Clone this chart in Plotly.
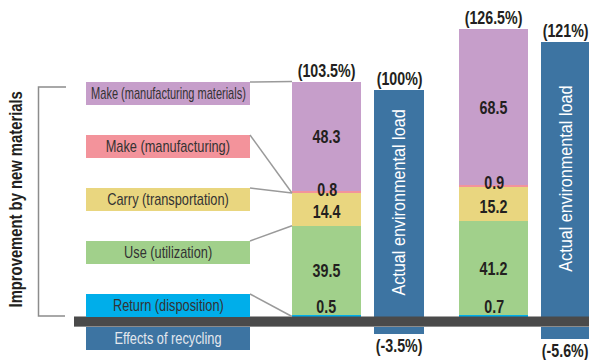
import json
import numpy as np
import plotly.graph_objects as go

# ---- data -------------------------------------------------------------
stages = ["Return (disposition)", "Use (utilization)", "Carry (transportation)",
          "Make (manufacturing)", "Make (manufacturing materials)"]
stage_colors = ["#00AEEA", "#A1D08B", "#E9D67F", "#F3939B", "#C69ECA"]

# stacked contributions, bottom to top, for the two product generations
gen_a = [0.5, 39.5, 14.4, 0.8, 48.3]
gen_b = [0.7, 41.2, 15.2, 0.9, 68.5]
gen_a_total_label = "(103.5%)"
gen_b_total_label = "(126.5%)"

# actual environmental load and the recycling effect
actual_load = [100, 121]
recycling_effect = [-3.5, -5.6]
actual_labels = ["(100%)", "(121%)"]
recycling_labels = ["(-3.5%)", "(-5.6%)"]

# ---- layout constants -------------------------------------------------
W, H = 589, 360
PX_PER_UNIT = 2.27
BASE_PX = 316.5                      # pixel row of the zero line
Y_TOP = BASE_PX / PX_PER_UNIT
Y_BOT = -(H - BASE_PX) / PX_PER_UNIT
BAND = 10 / PX_PER_UNIT              # thickness of the dark baseline band


def row(py):
    """pixel row -> y value"""
    return (BASE_PX - py) / PX_PER_UNIT


stack_x = [326.5, 493.5]
stack_w = 69
load_x = [399, 566]
load_w = 50

FONT = "Liberation Sans, Arial, Helvetica, sans-serif"
DARK = "#231F20"
BLUE = "#3D74A2"
GREY_LINE = "#9A9A9A"

fig = go.Figure()

# stacked bars
stacks = np.array([gen_a, gen_b])
bases = np.cumsum(stacks, axis=1) - stacks
for i, name in enumerate(stages):
    fig.add_trace(go.Bar(
        x=stack_x, y=stacks[:, i], base=bases[:, i], width=stack_w,
        marker=dict(color=stage_colors[i], line=dict(width=0)),
        name=name, showlegend=False, hoverinfo="skip"))

# actual load bars (positive part) and recycling effect (below the band)
fig.add_trace(go.Bar(x=load_x, y=actual_load, base=[0, 0], width=load_w,
                     marker=dict(color=BLUE, line=dict(width=0)),
                     showlegend=False, hoverinfo="skip"))
fig.add_trace(go.Bar(x=load_x, y=recycling_effect, base=[-BAND, -BAND], width=load_w,
                     marker=dict(color=BLUE, line=dict(width=0)),
                     showlegend=False, hoverinfo="skip"))

shapes = []
annotations = []
squeeze = []   # horizontal condensing per annotation: (scale, max width px)


def add_text(scale=0.75, maxw=1e9, **kw):
    annotations.append(dict(showarrow=False, **kw))
    squeeze.append([scale, maxw])


# dark baseline band
shapes.append(dict(type="rect", xref="x", yref="y", x0=74, x1=W + 5, y0=-BAND, y1=0,
                   fillcolor="#4A4A4A", line=dict(width=0), layer="above"))
shapes.append(dict(type="line", xref="x", yref="y", x0=74, x1=W + 5, y0=-BAND, y1=-BAND,
                   line=dict(color="#8C8C8C", width=1), layer="above"))

# legend boxes on the left
box_rows = [(294, 317), (241, 264), (188, 211), (135, 158), (82, 105)]
BX0, BX1 = 86, 250
for (t, b), name, col in zip(box_rows, stages, stage_colors):
    shapes.append(dict(type="rect", xref="x", yref="y", x0=BX0, x1=BX1,
                       y0=row(b), y1=row(t), fillcolor=col, line=dict(width=0)))
    add_text(scale=0.8, maxw=155, x=(BX0 + BX1) / 2, y=row((t + b) / 2), text=name,
             font=dict(family=FONT, size=16, color="#333333"),
             xanchor="center", yanchor="middle")

shapes.append(dict(type="rect", xref="x", yref="y", x0=BX0, x1=BX1,
                   y0=row(350), y1=row(327), fillcolor=BLUE, line=dict(width=0)))
add_text(scale=0.8, maxw=155, x=(BX0 + BX1) / 2, y=row(338.5), text="Effects of recycling",
         font=dict(family=FONT, size=16, color="#E4E8EE"),
         xanchor="center", yanchor="middle")

# connector lines from boxes to the first stacked bar
tops_a = np.cumsum(gen_a)
targets = [0, tops_a[1], tops_a[2], tops_a[2], tops_a[4]]
bar_left = stack_x[0] - stack_w / 2
for (t, b), ty in zip(box_rows, targets):
    shapes.append(dict(type="line", xref="x", yref="y", x0=BX1, y0=row(t),
                       x1=bar_left, y1=ty, line=dict(color=GREY_LINE, width=1.5)))

# bracket for "Improvement by new materials"
shapes.append(dict(type="path", xref="x", yref="y",
                   path=f"M 66 {row(87)} L 38.5 {row(87)} L 38.5 {row(316)} L 65 {row(316)}",
                   line=dict(color="#8C8C8C", width=1.5)))
add_text(scale=0.8, x=15.5, y=row(200), text="<b>Improvement by new materials</b>",
         textangle=-90, font=dict(family=FONT, size=18.5, color=DARK),
         xanchor="center", yanchor="middle")

# values inside the stacked bars
num_font = dict(family=FONT, size=19, color=DARK)
for xc, vals in zip(stack_x, [gen_a, gen_b]):
    cum = np.cumsum(vals)
    lo = cum - np.array(vals)
    # Return: sits just above its thin segment
    add_text(x=xc, y=cum[0], text=f"<b>{vals[0]}</b>", font=num_font,
             yanchor="bottom", yshift=-4)
    # Use, Carry, Make (materials): centred in their segments
    for k, shift in ((1, 0), (2, -2), (4, 0)):
        add_text(x=xc, y=(lo[k] + cum[k]) / 2, text=f"<b>{vals[k]}</b>",
                 font=num_font, yanchor="middle", yshift=shift)
    # Make (manufacturing): on top of its thin segment
    add_text(x=xc, y=cum[3], text=f"<b>{vals[3]}</b>", font=num_font,
             yanchor="middle", yshift=2)

# totals above the stacked bars
for xc, vals, lab in zip(stack_x, [gen_a, gen_b], [gen_a_total_label, gen_b_total_label]):
    add_text(x=xc, y=sum(vals), text=f"<b>{lab}</b>", font=num_font,
             yanchor="bottom", yshift=-1)

# actual load bars: totals, rotated caption, recycling labels
for xc, v, r, lab, rlab in zip(load_x, actual_load, recycling_effect,
                               actual_labels, recycling_labels):
    add_text(x=min(xc, W - 24), y=v, text=f"<b>{lab}</b>", font=num_font,
             yanchor="bottom", yshift=-1)
    add_text(scale=0.9, x=xc, y=v / 2, text="Actual environmental load", textangle=-90,
             font=dict(family=FONT, size=18, color="#FFFFFF"),
             xanchor="center", yanchor="middle")
    add_text(x=min(xc, W - 24), y=r - BAND, text=f"<b>{rlab}</b>", font=num_font,
             yanchor="top", yshift=1)

fig.update_layout(
    width=W, height=H,
    margin=dict(l=0, r=0, t=0, b=0),
    paper_bgcolor="white", plot_bgcolor="white",
    barmode="overlay", bargap=0,
    xaxis=dict(range=[0, W], visible=False, fixedrange=True),
    yaxis=dict(range=[Y_BOT, Y_TOP], visible=False, fixedrange=True),
    shapes=shapes, annotations=annotations,
    showlegend=False,
)

# condensed lettering: squeeze each annotation horizontally about its centre
condense_js = """
var gd = document.getElementById('{plot_id}');
var sq = %s;
function condense() {
  gd.querySelectorAll('g.annotation').forEach(function (g) {
    var i = +g.getAttribute('data-index');
    var t = g.querySelector('text.annotation-text');
    if (!t || !sq[i]) return;
    var s = sq[i][0];
    var w = t.getBBox().width;
    if (w * s > sq[i][1]) s = sq[i][1] / w;
    t.style.transformBox = 'fill-box';
    t.style.transformOrigin = 'center';
    t.style.transform = 'scaleX(' + s + ')';
  });
}
condense();
gd.on('plotly_afterplot', condense);
""" % json.dumps(squeeze)

fig.write_html("out.html", config={"displayModeBar": False, "staticPlot": True},
               post_script=condense_js)
